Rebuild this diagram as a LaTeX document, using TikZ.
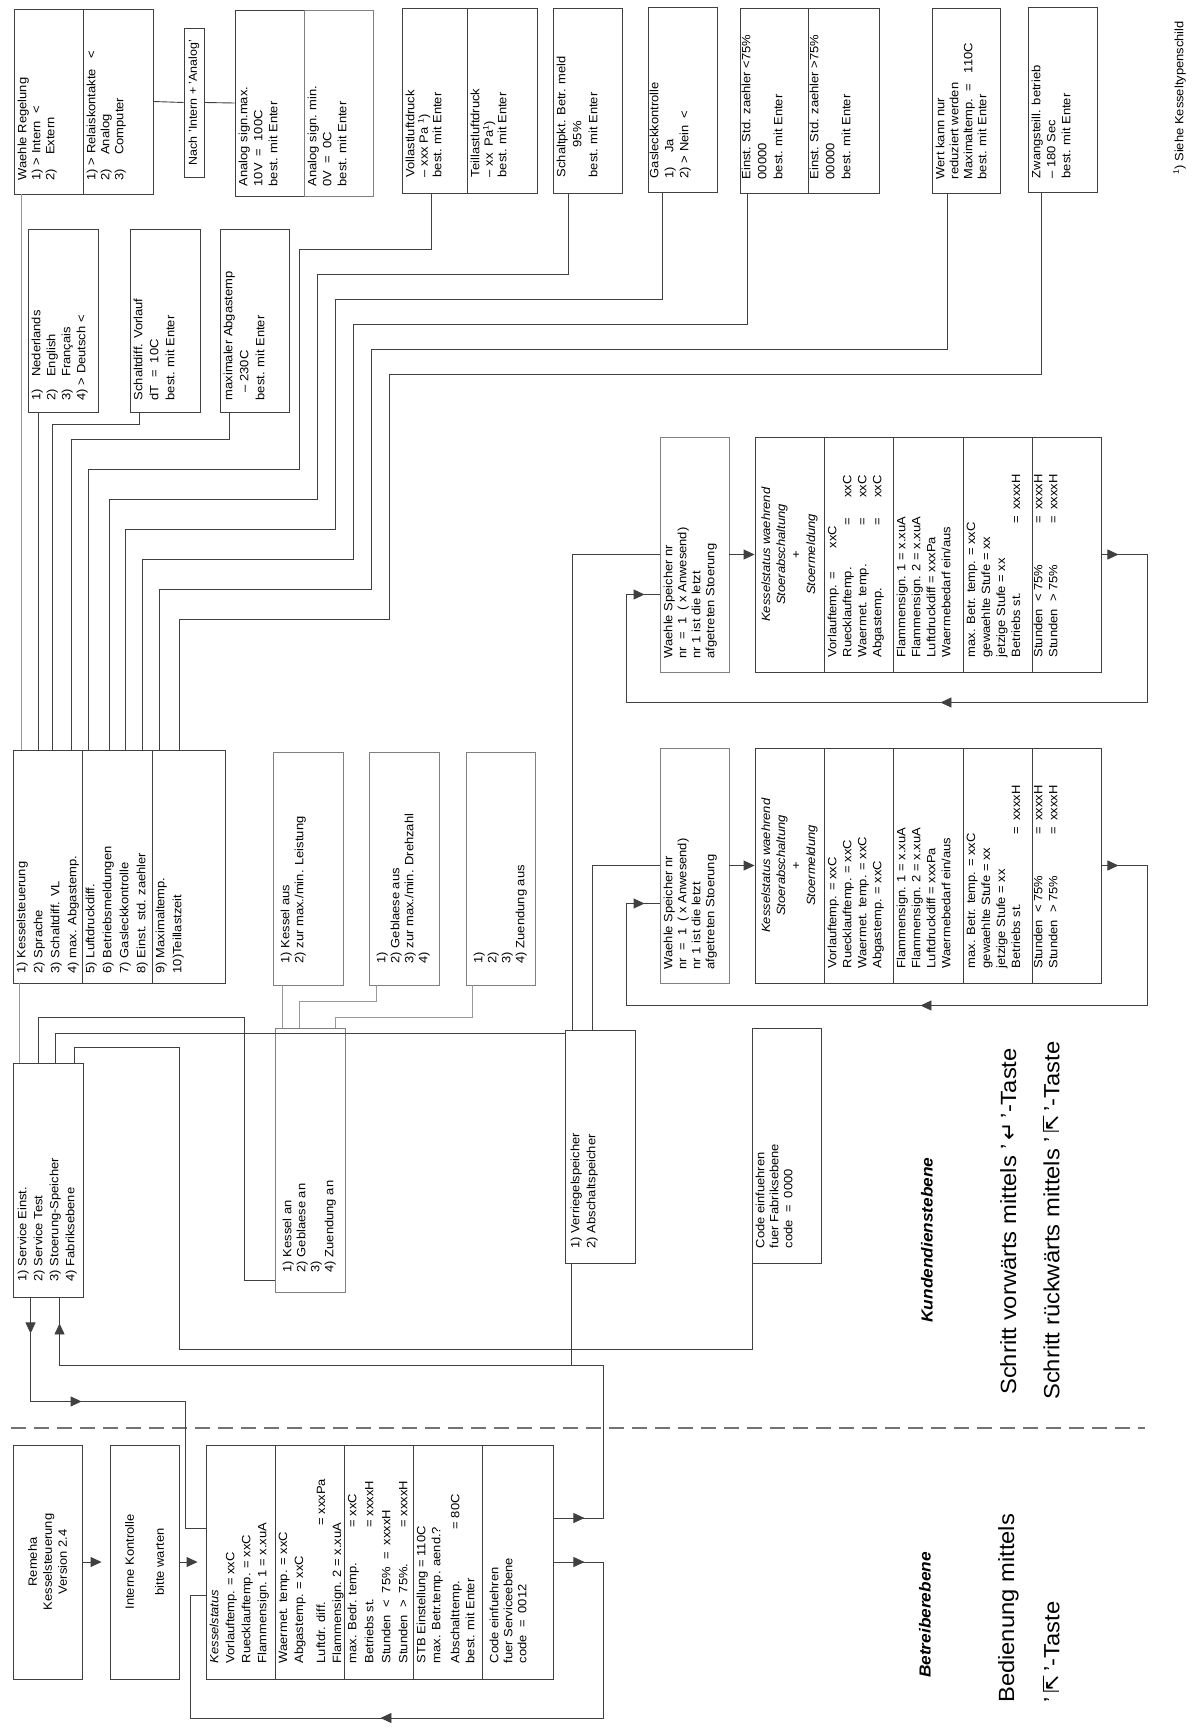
\documentclass[tikz,border=0pt]{standalone}
\usepackage{fontspec}
\setmainfont{Liberation Sans}[FakeStretch=1.08]
\newfontfamily\keyfont{DejaVu Sans}
\usetikzlibrary{arrows.meta,fit,calc,decorations.markings}

\tikzset{
  base/.style={font=\fontsize{12}{14.5}\selectfont, text=black},
  lead/.style={font=\fontsize{12}{#1}\selectfont},
  box/.style={draw=black!75, line width=0.9pt, inner sep=0pt},
  palebox/.style={box, draw=black!50},
  txt/.style={base, rotate=90, anchor=north west, align=left, inner sep=0pt},
  ctxt/.style={base, rotate=90, align=center, inner sep=0pt},
  link/.style={draw=black!75, line width=0.9pt},
  palelink/.style={link, draw=black!40},
  tipend/.style={-{Triangle[length=11pt,width=10pt]}},
  tipat/.style={postaction={decorate, decoration={markings, mark=at position #1 with {\arrow{Triangle[length=11pt,width=10pt]}}}}},
  tier/.style={font=\bfseries\itshape\fontsize{16}{19}\selectfont, rotate=90, inner sep=0pt},
  keytext/.style={font=\fontsize{22}{26}\selectfont, rotate=90, anchor=north west, align=left, inner sep=0pt},
  levelsep/.style={draw=black!55, line width=1.3pt, dash pattern=on 15pt off 8pt},
}

\begin{document}
\begin{tikzpicture}[x=1pt,y=-1pt]
  \useasboundingbox (0,0) rectangle (1193,1729);
  \fill[white] (0,0) rectangle (1193,1729);

  % top row of set-up screens
  \node[box, fit={(14,9) (83,194)}] (wr1) {};
  \node[box, fit={(83,9) (153,194)}] (wr2) {};
  \node[box, fit={(184,28) (204,177)}] (nach) {};
  \node[box, fit={(235,10) (304,196)}] (amax) {};
  \node[palebox, fit={(304,10) (373,196)}] (amin) {};
  \node[box, fit={(402,8) (467,193)}] (vl) {};
  \node[box, fit={(467,8) (537,193)}] (tl) {};
  \node[box, fit={(553,8) (622,193)}] (sp) {};
  \node[box, fit={(648,7) (717,192)}] (gl) {};
  \node[box, fit={(740,8) (808,193)}] (ez1) {};
  \node[box, fit={(808,8) (879,193)}] (ez2) {};
  \node[box, fit={(932,8) (1000,193)}] (wk) {};
  \node[box, fit={(1028,7) (1097,192)}] (zw) {};

  \node[txt, lead=14] at ([xshift=4pt,yshift=14pt]wr1.south west) {Waehle Regelung\\1)\ > Intern\ \ <\\2)\hspace{14pt}Extern};
  \node[txt, lead=14] at ([xshift=4pt,yshift=14pt]wr2.south west) {1)\ > Relaiskontakte\ \ \ <\\2)\hspace{14pt}Analog\\3)\hspace{14pt}Computer};
  \node[ctxt, font=\fontsize{11.5}{12}\selectfont] at (nach.center) {Nach 'Intern + 'Analog'};
  \node[txt, lead=15] at ([xshift=4pt,yshift=10pt]amax.south west) {Analog sign.max.\\10V\ \ =\ \ 100C\\best. mit Enter};
  \node[txt, lead=15] at ([xshift=4pt,yshift=10pt]amin.south west) {Analog sign. min.\\0V\ \ =\ \ 0C\\best. mit Enter};
  \node[txt, lead=13.5] at ([xshift=4pt,yshift=16pt]vl.south west) {Vollastluftdruck\\– xxx Pa\ \textsuperscript{1})\\best. mit Enter};
  \node[txt, lead=13.5] at ([xshift=4pt,yshift=16pt]tl.south west) {Teillastluftdruck\\– xx\ \ Pa\textsuperscript{1})\\best. mit Enter};
  \node[txt, lead=16] at ([xshift=4pt,yshift=16pt]sp.south west) {Schaltpkt. Betr. meld\\\hspace*{30pt}95\%\\best. mit Enter};
  \node[txt, lead=15] at ([xshift=2pt,yshift=14pt]gl.south west) {Gasleckkontrolle\\1)\hspace{14pt}Ja\\2) > Nein\ \ <};
  \node[txt, lead=16] at ([xshift=2pt,yshift=14pt]ez1.south west) {Einst. Std. zaehler <75\%\\00000\\best. mit Enter};
  \node[txt, lead=16] at ([xshift=2pt,yshift=14pt]ez2.south west) {Einst. Std. zaehler >75\%\\00000\\best. mit Enter};
  \node[txt, lead=14] at ([xshift=4pt,yshift=14pt]wk.south west) {Wert kann nur\\reduziert werden\\Maximaltemp.\ \ =\ \ \ 110C\\best. mit Enter};
  \node[txt, lead=15] at ([xshift=4pt,yshift=14pt]zw.south west) {Zwangsteill. betrieb\\– 180 Sec\\best. mit Enter};
  \node[base, rotate=90, anchor=south west, inner sep=0pt] (fn) at (1186,175) {\textsuperscript{1}) Siehe Kesseltypenschild};

  % second row
  \node[box, fit={(28,229) (98,412)}] (lang) {};
  \node[box, fit={(130,229) (200,412)}] (sd) {};
  \node[box, fit={(220,229) (289,412)}] (ag) {};
  \node[txt, lead=15] at ([xshift=4pt,yshift=12pt]lang.south west) {1)\hspace{12pt}Nederlands\\2)\hspace{12pt}English\\3)\hspace{12pt}Français\\4) > Deutsch <};
  \node[txt, lead=16] at ([xshift=4pt,yshift=12pt]sd.south west) {Schaltdiff. Vorlauf\\dT\ \ =\ \ 10C\\best. mit Enter};
  \node[txt, lead=16] at ([xshift=4pt,yshift=12pt]ag.south west) {maximaler Abgastemp\\\hspace*{8pt}– 230C\\best. mit Enter};

  % service menu
  \node[box, fit={(13,750) (82,983)}] (m1) {};
  \node[box, fit={(82,750) (152,983)}] (m2) {};
  \node[box, fit={(152,750) (225,983)}] (m3) {};
  \node[txt, lead=17] at ([xshift=4pt,yshift=10pt]m1.south west) {1)\ Kesselsteuerung\\2)\ Sprache\\3)\ Schaltdiff. VL\\4)\ max. Abgastemp.};
  \node[txt, lead=17] at ([xshift=4pt,yshift=10pt]m2.south west) {5)\ Luftdruckdiff.\\6)\ Betriebsmeldungen\\7)\ Gasleckkontrolle\\8)\ Einst. std. zaehler};
  \node[txt, lead=17] at ([xshift=4pt,yshift=10pt]m3.south west) {9)\ Maximaltemp.\\10)Teillastzeit};

  \draw[palelink] ([xshift=9pt]m1.north west) -- ([xshift=8pt]wr1.south west);
  \draw[link] ([xshift=26pt]m1.north west) -- ([xshift=11pt]lang.south west);
  \draw[link] ([xshift=40pt]m1.north west) -- ++(0,-325) -| ([xshift=10pt]sd.south west);
  \draw[link] ([xshift=59pt]m1.north west) -- ++(0,-310) -| ([xshift=10pt]ag.south west);
  \draw[link] ([xshift=7pt]m2.north west) -- ++(0,-280) -- ++(211,0) -- ++(0,-220) -| ([xshift=30pt]vl.south west);
  \draw[link] ([xshift=28pt]m2.north west) -- ++(0,-250) -- ++(208,0) -- ++(0,-225) -| ([xshift=16pt]sp.south west);
  \draw[link] ([xshift=44pt]m2.north west) -- ++(0,-220) -- ++(210,0) -- ++(0,-230) -| ([xshift=15pt]gl.south west);
  \draw[link] ([xshift=61pt]m2.north west) -- ++(0,-190) -- ++(211,0) -- ++(0,-235) -| ([xshift=8pt]ez1.south west);
  \draw[link] ([xshift=8pt]m3.north west) -- ++(0,-160) -- ++(212,0) -- ++(0,-240) -| ([xshift=16pt]wk.south west);
  \draw[link] ([xshift=28pt]m3.north west) -- ++(0,-130) -- ++(210,0) -- ++(0,-245) -| ([xshift=14pt]zw.south west);
  \draw[link] (wr2.east) -- (nach.west);
  \draw[link] (nach.east) -- (amax.west);

  % service test
  \node[palebox, fit={(273,752) (343,985)}] (ka) {};
  \node[palebox, fit={(369,752) (439,985)}] (ga) {};
  \node[palebox, fit={(466,752) (535,985)}] (za) {};
  \node[palebox, fit={(275,1028) (345,1292)}] (kan) {};
  \node[txt, lead=14] at ([xshift=8pt,yshift=22pt]ka.south west) {1) Kessel aus\\2) zur max./min. Leistung};
  \node[txt, lead=14] at ([xshift=8pt,yshift=22pt]ga.south west) {1)\\2) Geblaese aus\\3) zur max./min. Drehzahl\\4)};
  \node[txt, lead=14] at ([xshift=8pt,yshift=22pt]za.south west) {1)\\2)\\3)\\4) Zuendung aus};
  \node[txt, lead=14] at ([xshift=8pt,yshift=20pt]kan.south west) {1) Kessel an\\2) Geblaese an\\3)\\4) Zuendung an};
  \draw[palelink] ([xshift=10pt]ka.south west) -- ([xshift=8pt]kan.north west);
  \draw[palelink] ([xshift=8pt]ga.south west) -- ++(0,16) -| ([xshift=25pt]kan.north west);
  \draw[palelink] ([xshift=7pt]za.south west) -- ++(0,32) -| ([xshift=61pt]kan.north west);

  % service level entry
  \node[box, fit={(13,1063) (83,1297)}] (srv) {};
  \node[box, fit={(565,1030) (635,1263)}] (vs) {};
  \node[box, fit={(752,1028) (821,1263)}] (cf) {};
  \node[txt, lead=16] at ([xshift=5pt,yshift=16pt]srv.south west) {1)\ Service Einst.\\2)\ Service Test\\3)\ Stoerung-Speicher\\4)\ Fabriksebene};
  \node[txt, lead=16] at ([xshift=6pt,yshift=15pt]vs.south west) {1) Verriegelspeicher\\2) Abschaltspeicher};
  \node[txt, lead=14] at ([xshift=4pt,yshift=15pt]cf.south west) {Code einfuehren\\fuer Fabriksebene\\code\ \ =\ \ 0000};
  \draw[palelink] ([xshift=7pt]srv.north west) -- ([xshift=7pt]m1.south west);
  \draw[link] ([xshift=26pt]srv.north west) -- ++(0,-45) -- ++(206,0) |- ([yshift=12pt]kan.south west);
  \draw[link] ([xshift=43pt]srv.north west) |- ([yshift=-4pt]vs.north west);
  \draw[link] ([xshift=62pt]srv.north west) -- ++(0,-15) -- ++(105,0) -- ++(0,302) -| ([xshift=1pt]cf.south west);

  % fault memory
  \foreach \row/\top/\bot in {u/437/672, l/748/983} {
    \node[palebox, fit={(660,\top) (729,\bot)}] (ws\row) {};
    \node[box, fit={(755,\top) (824,\bot)}] (ks\row1) {};
    \node[box, fit={(824,\top) (893,\bot)}] (ks\row2) {};
    \node[box, fit={(893,\top) (963,\bot)}] (ks\row3) {};
    \node[box, fit={(963,\top) (1032,\bot)}] (ks\row4) {};
    \node[box, fit={(1032,\top) (1101,\bot)}] (ks\row5) {};
    \node[txt, lead=14] at ([xshift=4pt,yshift=14pt]ws\row.south west) {Waehle Speicher nr\\nr\ \ =\ \ 1\ \ (\ x Anwesend)\\nr 1 ist die letzt\\afgetreten Stoerung};
    \node[ctxt, lead=15] at (ks\row1.center) {\textit{Kesselstatus waehrend}\\\textit{Stoerabschaltung}\\+\\\textit{Stoermeldung}};
    \node[txt, lead=15] at ([xshift=4pt,yshift=15pt]ks\row3.south west) {Flammensign. 1 = x.xuA\\Flammensign. 2 = x.xuA\\Luftdruckdiff = xxxPa\\Waermebedarf ein/aus};
    \node[txt, lead=15] at ([xshift=4pt,yshift=15pt]ks\row4.south west) {max. Betr. temp. = xxC\\gewaehlte Stufe = xx\\jetzige Stufe = xx\\\makebox[134pt][l]{Betriebs st.}=\hspace{6pt}xxxxH};
    \node[txt, lead=15] at ([xshift=2pt,yshift=15pt]ks\row5.south west) {\makebox[134pt][l]{Stunden\ \ <\ 75\%}=\hspace{6pt}xxxxH\\\makebox[134pt][l]{Stunden\ \ >\ 75\%}=\hspace{6pt}xxxxH};
    \draw[link, tipend] (ws\row.east) -- (ks\row1.west);
  }
  \node[txt, lead=15] at ([xshift=4pt,yshift=15pt]ksu2.south west) {Vorlauftemp. =\hspace{24pt}xxC\\\makebox[132pt][l]{Ruecklauftemp.}=\hspace{20pt}xxC\\\makebox[132pt][l]{Waermet. temp.}=\hspace{20pt}xxC\\\makebox[132pt][l]{Abgastemp.}=\hspace{20pt}xxC};
  \node[txt, lead=15] at ([xshift=4pt,yshift=15pt]ksl2.south west) {Vorlauftemp. = xxC\\Ruecklauftemp. = xxC\\Waermet. temp. = xxC\\Abgastemp. = xxC};

  \draw[link] ([xshift=8pt]vs.north west) |- (wsu.west);
  \draw[link] ([xshift=28pt]vs.north west) |- (wsl.west);
  \draw[link, tipat=17pt, tipat=401pt, tipat=-15pt] (ksu5.east) -- ++(46,0) -- ++(0,148) -- ++(-521,0) |- ([yshift=-40pt]wsu.west);
  \draw[link, tipat=17pt, tipat=413pt, tipat=-15pt] (ksl5.east) -- ++(46,0) -- ++(0,140) -- ++(-521,0) |- ([yshift=-38pt]wsl.west);

  % level separator
  \draw[levelsep] (11,1428) -- (1145,1428);

  % operator level
  \node[box, fit={(13,1445) (82,1679)}] (rb) {};
  \node[box, fit={(110,1445) (179,1679)}] (ik) {};
  \node[box, fit={(206,1445) (275,1679)}] (kb1) {};
  \node[box, fit={(275,1445) (344,1679)}] (kb2) {};
  \node[box, fit={(344,1445) (413,1679)}] (kb3) {};
  \node[box, fit={(413,1445) (482,1679)}] (kb4) {};
  \node[box, fit={(482,1445) (553,1679)}] (kb5) {};
  \node[ctxt, lead=15] at (rb.center) {Remeha\\Kesselsteuerung\\Version 2.4};
  \node[ctxt, lead=30] at (ik.center) {Interne Kontrolle\\bitte warten};
  \node[txt, lead=16] at ([xshift=4pt,yshift=16pt]kb1.south west) {\textit{Kesselstatus}\\Vorlauftemp. = xxC\\Ruecklauftemp. = xxC\\Flammensign. 1 = x.xuA};
  \node[txt, lead=16] at ([xshift=4pt,yshift=16pt]kb2.south west) {Waermet. temp. = xxC\\Abgastemp. = xxC\\[6pt]\makebox[138pt][l]{Luftdr. diff.}= xxxPa\\Flammensign. 2 = x.xuA};
  \node[txt, lead=17] at ([xshift=4pt,yshift=16pt]kb3.south west) {\makebox[136pt][l]{max. Bedr. temp.}= xxC\\\makebox[136pt][l]{Betriebs st.}= xxxxH\\Stunden\ \ <\ \ 75\%\ \ =\ \ xxxxH\\\makebox[136pt][l]{Stunden\ \ >\ \ 75\%.}= xxxxH};
  \node[txt, lead=15] at ([xshift=4pt,yshift=16pt]kb4.south west) {STB Einstellung = 110C\\max. Betr.temp. aend.?\\[4pt]\makebox[134pt][l]{Abschalttemp.}= 80C\\best. mit Enter};
  \node[txt, lead=14] at ([xshift=8pt,yshift=16pt]kb5.south west) {Code einfuehren\\fuer Serviceebene\\code\ \ =\ \ 0012};

  \draw[link, tipend, shorten >=8pt] (rb.east) -- (ik.west);
  \draw[link, tipend, shorten >=8pt] (ik.east) -- (kb1.west);
  \draw[link, tipat=36pt, tipat=155pt] ([xshift=18pt]srv.south west) -- ++(0,104) -- ++(155,0) |- ([yshift=34pt]kb1.west);
  \draw[link, tipat=31pt, tipat=-26pt] ([yshift=44pt]kb5.east) -- ++(50,0) -- ++(0,-153) -| ([xshift=47pt]srv.south west);
  \draw[link, tipat=31pt, tipat=429pt] (kb5.east) -- ++(50,0) -- ++(0,156) -- ++(-413,0) |- ([yshift=-33pt]kb1.west);
  \draw[link] ([xshift=7pt]vs.south west) -- ++(0,102);

  % legend
  \node[tier] (kd) at (927,1240) {Kundendienstebene};
  \node[tier] (be) at (925,1615) {Betreiberebene};
  \node[keytext] (fwd) at (1000,1395) {Schritt vorwärts mittels '\,{\keyfont ↵}\,'-Taste};
  \node[keytext] (bwd) at (1043,1400) {Schritt rückwärts mittels '\,{\keyfont ⇱}\,'-Taste};
  \node[keytext] (bed) at (998,1703) {Bedienung mittels};
  \node[keytext] (bedk) at (1043,1703) {'\,{\keyfont ⇱}\,'-Taste};
\end{tikzpicture}
\end{document}
